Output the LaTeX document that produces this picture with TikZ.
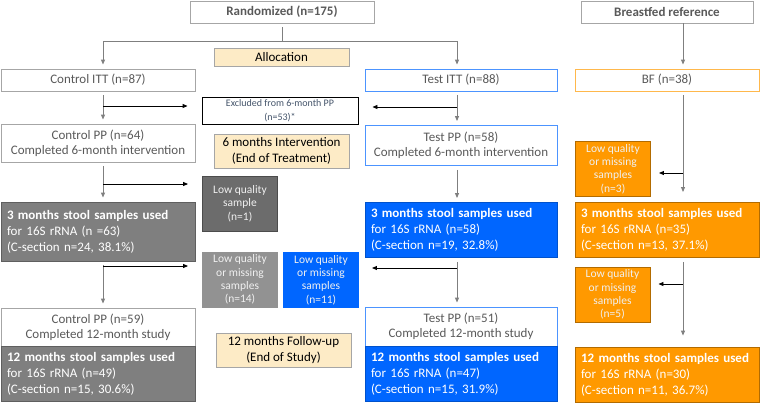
\documentclass[tikz,border=0pt]{standalone}
\usepackage{fontspec}
\setmainfont{Carlito}
\usetikzlibrary{arrows.meta}
\definecolor{boxgray}{HTML}{A6A6A6}
\definecolor{txtgray}{HTML}{595959}
\definecolor{ctrlgray}{HTML}{7F7F7F}
\definecolor{testblue}{HTML}{0066FF}
\definecolor{bforange}{HTML}{FF9900}
\definecolor{notefill}{HTML}{FDEBC6}
\definecolor{slate}{HTML}{44546A}
\tikzset{
box/.style={draw=boxgray, line width=0.9pt, text=txtgray, align=center, inner sep=2pt,
  font=\fontsize{13}{15}\selectfont},
datbox/.style={line width=0.9pt, text=white, align=left, inner sep=6pt,
  font=\fontsize{13}{16}\selectfont, minimum width=#1, text width=#1-12pt},
small/.style={line width=0.9pt, text=white!94!black, align=center, inner sep=1pt,
  minimum width=75pt, minimum height=55pt, font=\fontsize{11.5}{13.3}\selectfont},
note/.style={draw=boxgray, fill=notefill, line width=0.9pt, align=center, inner sep=1pt,
  minimum width=135pt, font=\fontsize{13}{15.3}\selectfont}
}
\begin{document}
\begin{tikzpicture}[x=1pt, y=-1pt, ->, >={Triangle[length=5pt,width=4pt]},
  vline/.style={draw=ctrlgray, line width=0.9pt, shorten <=4pt, shorten >=4pt},
  hline/.style={draw=black, line width=0.9pt, shorten >=14pt}]
\useasboundingbox (0,0) rectangle (760,402);
% header
\node[box, minimum width=184pt, minimum height=22pt, font=\fontsize{13}{15}\bfseries] (rand) at (282,12) {Randomized (n=175)};
\node[box, minimum width=172pt, minimum height=22pt, font=\fontsize{13}{15}\bfseries] (bfref) at (667,12) {Breastfed reference};
\node[note, minimum height=18pt] (alloc) at (281.5,57) {Allocation};
% arms
\node[box, minimum width=194pt, minimum height=22pt] (cITT) at (98,80) {Control ITT (n=87)};
\node[box, draw=testblue!70, minimum width=192pt, minimum height=22pt] (tITT) at (461,80) {Test ITT (n=88)};
\node[box, draw=bforange!70, minimum width=184pt, minimum height=22pt] (bf) at (667,80) {BF (n=38)};
\node[box, draw=black, text=slate, minimum width=156pt, minimum height=27pt,
  font=\fontsize{10}{14}\selectfont] (excl) at (280,110.5) {Excluded from 6-month PP\\(n=53)*};
\node[box, minimum width=194pt, minimum height=38pt] (cPP) at (98,143) {Control PP (n=64)\\Completed 6-month intervention};
\node[note, minimum height=34pt] (int6) at (281.5,151) {6 months Intervention\\(End of Treatment)};
\node[box, draw=testblue!70, minimum width=192pt, minimum height=40pt] (tPP) at (461,145.5) {Test PP (n=58)\\Completed 6-month intervention};
% 3 months
\node[small, fill=ctrlgray!85!black, draw=black!70] (low1) at (240,203.5) {Low quality\\sample\\(n=1)};
\node[small, fill=bforange, draw=bforange!70!black] (bflow3) at (613,169) {Low quality\\or missing\\samples\\(n=3)};
\node[datbox=194pt, fill=ctrlgray, draw=ctrlgray!75!black, minimum height=59pt] (c3) at (98,231.5)
  {\textbf{3 months stool samples used}\\for 16S rRNA (n =63)\\(C-section n=24, 38.1\%)};
\node[datbox=192pt, fill=testblue, draw=testblue!80!black, minimum height=55pt] (t3) at (461,230)
  {\textbf{3 months stool samples used}\\for 16S rRNA (n=58)\\(C-section n=19, 32.8\%)};
\node[datbox=184pt, fill=bforange, draw=bforange!70!black, minimum height=55pt] (bf3) at (667,230)
  {\textbf{3 months stool samples used}\\for 16S rRNA (n=35)\\(C-section n=13, 37.1\%)};
\node[small, fill=ctrlgray!85!white, draw=ctrlgray!85!white] (low14) at (240,279.5) {Low quality\\or missing\\samples\\(n=14)};
\node[small, fill=testblue, draw=testblue] (low11) at (321,280) {Low quality\\or missing\\samples\\(n=11)};
\node[small, fill=bforange, draw=bforange!70!black] (bflow5) at (612.5,294.5) {Low quality\\or missing\\samples\\(n=5)};
% 12 months
\node[box, minimum width=194pt, minimum height=38pt] (cPP12) at (98,327) {Control PP (n=59)\\Completed 12-month study};
\node[note, minimum height=34pt] (fu12) at (283.5,350) {12 months Follow-up\\(End of Study)};
\node[box, draw=testblue!70, minimum width=192pt, minimum height=39pt] (tPP12) at (461,326.5) {Test PP (n=51)\\Completed 12-month study};
\node[datbox=194pt, fill=ctrlgray, draw=ctrlgray!75!black, minimum height=55pt] (c12) at (98,373.5)
  {\textbf{12 months stool samples used}\\for 16S rRNA (n=49)\\(C-section n=15, 30.6\%)};
\node[datbox=192pt, fill=testblue, draw=testblue!80!black, minimum height=55pt] (t12) at (461,373.5)
  {\textbf{12 months stool samples used}\\for 16S rRNA (n=47)\\(C-section n=15, 31.9\%)};
\node[datbox=184pt, fill=bforange, draw=bforange!70!black, minimum height=53pt] (bf12) at (667,374.5)
  {\textbf{12 months stool samples used}\\for 16S rRNA (n=30)\\(C-section n=11, 36.7\%)};
% lanes and branch points
\coordinate (cl) at (103,0);
\coordinate (tl) at (457,0);
\coordinate (bl) at (683,0);
\coordinate (split) at (282,41);
\coordinate (x1) at (103,106);
\coordinate (x2) at (457,107);
\coordinate (x3) at (103,184);
\coordinate (x4) at (103,266);
\coordinate (x5) at (457,268);
\coordinate (x6) at (683,173);
\coordinate (x7) at (683,284);
% connectors
\draw[vline, -, shorten >=0pt] (rand) -- (split);
\draw[vline, shorten <=0pt] (split) -| (cITT.north -| cl);
\draw[vline, shorten <=0pt] (split) -| (tITT.north -| tl);
\draw[vline, shorten <=0pt] (bfref.south -| bl) -- (bf.north -| bl);
\draw[vline] (cITT.south -| cl) -- (cPP.north -| cl);
\draw[vline] (cPP.south -| cl) -- (c3.north -| cl);
\draw[vline] (c3.south -| cl) -- (cPP12.north -| cl);
\draw[vline] (tITT.south -| tl) -- (tPP.north -| tl);
\draw[vline] (tPP.south -| tl) -- (t3.north -| tl);
\draw[vline] (t3.south -| tl) -- (tPP12.north -| tl);
\draw[vline, shorten >=10pt] (bf.south -| bl) -- (bf3.north -| bl);
\draw[vline, shorten >=11pt] (bf3.south -| bl) -- (bf12.north -| bl);
\draw[hline] (x1) -- (x1 -| excl.west);
\draw[hline] (x2) -- (x2 -| excl.east);
\draw[hline] (x3) -- (x3 -| low1.west);
\draw[hline] (x4) -- (x4 -| low14.west);
\draw[hline, shorten >=13pt] (x5) -- (x5 -| low11.east);
\draw[hline, shorten >=8pt] (x6) -- (x6 -| bflow3.east);
\draw[hline, shorten >=8pt] (x7) -- (x7 -| bflow5.east);
\end{tikzpicture}
\end{document}
